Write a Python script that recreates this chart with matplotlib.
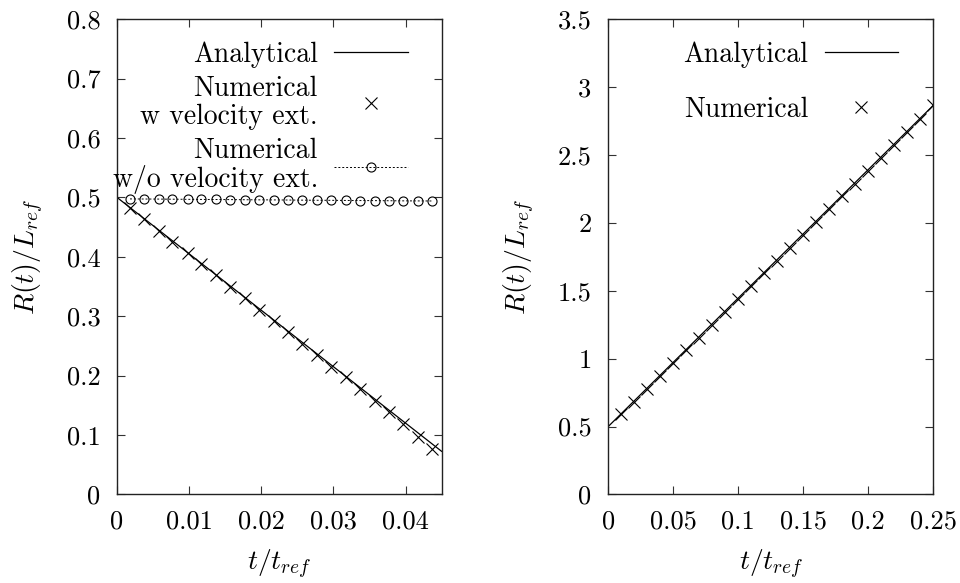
import matplotlib
matplotlib.use("Agg")
import matplotlib.pyplot as plt
from matplotlib.ticker import FuncFormatter

plt.rcParams['font.family'] = ['cmr10', 'DejaVu Serif']
plt.rcParams['mathtext.fontset'] = 'cm'
plt.rcParams['axes.formatter.use_mathtext'] = True
plt.rcParams['axes.unicode_minus'] = False

# ---- left panel data ----
t_left_ana = [0.0, 0.045]
R_left_ana = [0.5, 0.0725]

t_left_num = [0.0018, 0.0038, 0.0058, 0.0076, 0.0098, 0.0117, 0.0137, 0.0157,
              0.0177, 0.0197, 0.0217, 0.0237, 0.0257, 0.0277, 0.0297, 0.0317,
              0.0337, 0.0357, 0.0377, 0.0397, 0.0417, 0.0437]
R_left_w = [0.483, 0.464, 0.444, 0.425, 0.407, 0.388, 0.369, 0.350,
            0.330, 0.310, 0.292, 0.273, 0.254, 0.235, 0.215, 0.197,
            0.177, 0.157, 0.138, 0.118, 0.097, 0.076]
R_left_wo = [0.4975, 0.4973, 0.4972, 0.4970, 0.4968, 0.4966, 0.4965, 0.4963,
             0.4961, 0.4959, 0.4958, 0.4956, 0.4954, 0.4952, 0.4951, 0.4949,
             0.4947, 0.4946, 0.4944, 0.4942, 0.4941, 0.4940]

# ---- right panel data ----
t_right_ana = [0.0, 0.25]
R_right_ana = [0.5, 2.866]

t_right_num = [0.01, 0.02, 0.03, 0.04, 0.05, 0.06, 0.07, 0.08, 0.09, 0.10,
               0.11, 0.12, 0.13, 0.14, 0.15, 0.16, 0.17, 0.18, 0.19, 0.20,
               0.21, 0.22, 0.23, 0.24, 0.25]
R_right_num = [0.590, 0.684, 0.778, 0.872, 0.967, 1.061, 1.155, 1.250, 1.344, 1.439,
               1.533, 1.628, 1.722, 1.817, 1.911, 2.006, 2.100, 2.195, 2.289, 2.384,
               2.478, 2.573, 2.667, 2.762, 2.866]

left_xticks = [0, 0.01, 0.02, 0.03, 0.04]
left_yticks = [0, 0.1, 0.2, 0.3, 0.4, 0.5, 0.6, 0.7, 0.8]
right_xticks = [0, 0.05, 0.1, 0.15, 0.2, 0.25]
right_yticks = [0, 0.5, 1, 1.5, 2, 2.5, 3, 3.5]

fig = plt.figure(figsize=(9.6, 5.83), dpi=100)
axL = fig.add_axes([0.1219, 0.152, 0.3381, 0.815])
axR = fig.add_axes([0.6336, 0.152, 0.3386, 0.815])

fmt = FuncFormatter(lambda v, p: '%g' % round(v, 4))

def style(ax):
    ax.tick_params(direction='in', top=True, right=True, length=6, width=0.8,
                   labelsize=19, color='#333333')
    ax.tick_params(axis='x', pad=11)
    ax.tick_params(axis='y', pad=12)
    for s in ax.spines.values():
        s.set_linewidth(1.0)
        s.set_color('#222222')
    ax.xaxis.set_major_formatter(fmt)
    ax.yaxis.set_major_formatter(fmt)
    ax.set_xlabel(r'$t/t_{ref}$', fontsize=20, labelpad=10)
    ax.set_ylabel(r'$R(t)/L_{ref}$', fontsize=20, labelpad=15)

lw = 0.9
# left
axL.plot(t_left_ana, R_left_ana, color='black', lw=lw, label='Analytical')
axL.plot(t_left_num, R_left_w, linestyle='none', marker='x', color='black',
         markersize=8.5, markeredgewidth=0.8, label='Numerical\nw velocity ext.')
axL.plot(t_left_num, R_left_wo, linestyle=(0, (2, 2)), lw=0.7, marker='o', color='black',
         markerfacecolor='none', markersize=6.5, markeredgewidth=0.8,
         label='Numerical\nw/o velocity ext.')
axL.set_xlim(0, 0.045)
axL.set_ylim(0, 0.8)
axL.set_xticks(left_xticks)
axL.set_yticks(left_yticks)
style(axL)
legL = axL.legend(loc='upper right', bbox_to_anchor=(0.955, 0.995), frameon=False,
                  markerfirst=False, fontsize=20, handlelength=2.63, handletextpad=0.6,
                  labelspacing=0.3, borderpad=0.2)
for t in legL.get_texts():
    t.set_multialignment('right')
    t.set_linespacing(1.05)

# right
axR.plot(t_right_ana, R_right_ana, color='black', lw=lw, label='Analytical')
axR.plot(t_right_num, R_right_num, linestyle='none', marker='x', color='black',
         markersize=8.5, markeredgewidth=0.8, label='Numerical')
axR.set_xlim(0, 0.25)
axR.set_ylim(0, 3.5)
axR.set_xticks(right_xticks)
axR.set_yticks(right_yticks)
style(axR)
axR.legend(loc='upper right', bbox_to_anchor=(0.95, 0.995), frameon=False,
           markerfirst=False, fontsize=20, handlelength=2.63, handletextpad=0.6,
           labelspacing=1.05, borderpad=0.2)

fig.savefig('out.png', dpi=100)
